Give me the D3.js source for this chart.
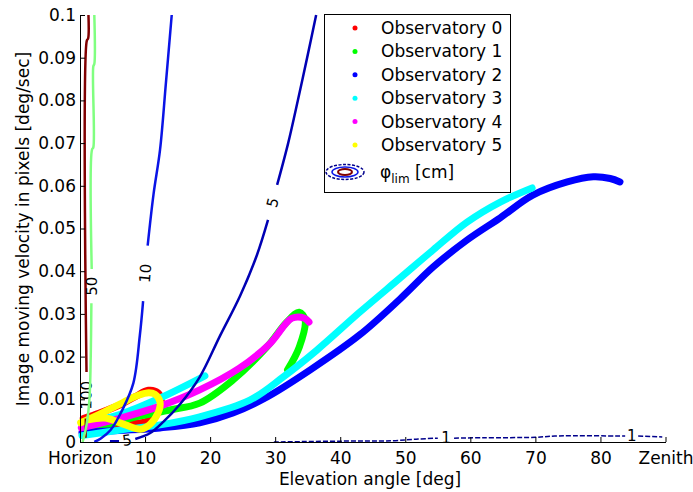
<!DOCTYPE html>
<html>
<head>
<meta charset="utf-8">
<script src="https://cdn.jsdelivr.net/npm/d3@7"></script>
<style>
body { margin: 0; background: #fff; }
text { font-family: "DejaVu Sans", sans-serif; fill: #000; }
</style>
</head>
<body>
<div id="chart"></div>
<script>
const width = 693,
    height = 492;

// axis ticks
const elevTicks = [0, 10, 20, 30, 40, 50, 60, 70, 80, 90];
const elevTickLabels = ["Horizon", "10", "20", "30", "40", "50", "60", "70", "80", "Zenith"];
const velTicks = [0, 0.01, 0.02, 0.03, 0.04, 0.05, 0.06, 0.07, 0.08, 0.09, 0.1];
const velTickLabels = ["0", "0.01", "0.02", "0.03", "0.04", "0.05", "0.06", "0.07", "0.08", "0.09", "0.1"];

// observatory tracks: [elevation deg, velocity deg/sec]
const obs0Tracks = [
    [[0.5, 0.0055], [3, 0.0068], [6, 0.0086], [8.5, 0.0106], [10.5, 0.0121], [12, 0.0115], [12.5, 0.0096],
     [12, 0.0072], [10.5, 0.005], [8, 0.0042], [5, 0.0038], [2, 0.0036], [0.4, 0.0035]]
];
const obs1Tracks = [
    [[0.4, 0.0021], [4.7, 0.0042], [9.3, 0.0061], [13.8, 0.0075], [18.4, 0.0091], [23.5, 0.0145],
     [28.7, 0.0222], [31.8, 0.0281], [33.7, 0.0304], [34.6, 0.0286], [33.7, 0.0222], [31.9, 0.0169]]
];
const obs2Tracks = [
    [[0.3, 0.0022], [6, 0.0027], [12.3, 0.0033], [18.4, 0.0045], [23.5, 0.0068], [28.7, 0.0105],
     [35.4, 0.0169], [43, 0.0251], [49.2, 0.0335], [54.3, 0.041], [59.5, 0.0473], [64.6, 0.0525],
     [69.6, 0.0578], [74.9, 0.0609], [78.9, 0.0621], [81.5, 0.0617], [83, 0.0609]]
];
const obs3Tracks = [
    [[0.3, 0.0015], [6.2, 0.0028], [12.3, 0.004], [18.4, 0.0059], [26.1, 0.0098], [31.2, 0.0152],
     [36.4, 0.0215], [43, 0.0304], [49.2, 0.0384], [54.3, 0.045], [59.5, 0.0515], [64.6, 0.0562],
     [69.5, 0.0595]],
    [[0.8, 0.0045], [6.2, 0.0065], [12.3, 0.0103], [19.2, 0.0155]]
];
const obs4Tracks = [
    [[0.2, 0.0033], [6.2, 0.0056], [12.3, 0.0084], [18.4, 0.0122], [24.5, 0.0173], [29.1, 0.0229],
     [32.6, 0.029], [34.5, 0.029], [35.2, 0.0281]]
];
const obs5Tracks = [
    [[0.1, 0.0045], [3.1, 0.0066], [6.2, 0.0089], [8.2, 0.0105], [10.3, 0.0115], [11.5, 0.0112],
     [12.3, 0.0094], [12, 0.0068], [10.8, 0.0042], [9.3, 0.003], [7, 0.004], [3.9, 0.0056], [1.3, 0.0052]]
];
const obsNames = ["Observatory 0", "Observatory 1", "Observatory 2", "Observatory 3", "Observatory 4", "Observatory 5"];
const obsColors = ["#ff0000", "#00ff00", "#0000ff", "#00ffff", "#ff00ff", "#ffff00"];
const obsTracks = [obs0Tracks, obs1Tracks, obs2Tracks, obs3Tracks, obs4Tracks, obs5Tracks];

// phi_lim contours [cm]; null = gap where the label sits
const contour100 = [[1.3, 0.1], [1.25, 0.0945], [1.05, 0.094], [1.0, 0.0164], null, [0.9, 0.0055], [0.85, 0.001]];
const contour50 = [[2.2, 0.1], [2.2, 0.0885], [2.05, 0.088], [2.05, 0.069], [1.85, 0.0685], [1.8, 0.0405], null,
    [1.75, 0.0325], [1.65, 0.02], [1.45, 0.01], [1.0, 0.004], [0.4, 0]];
const contour10 = [[2.2, 0], [3.2, 0.0008], [4.7, 0.0028], [6.5, 0.0075], [8.2, 0.0138], [9.2, 0.025], [9.7, 0.033], null,
    [10.4, 0.046], [11.3, 0.058], [12.3, 0.0684], [13.2, 0.084], [14.1, 0.1]];
const contour5 = [[4.6, 0.0002], [6.0, 0.0002], null, [8.5, 0.0007], [10.8, 0.0021], [12.8, 0.0047], [15.4, 0.0089],
    [18.4, 0.0152], [21.5, 0.0248], [24.6, 0.0342], [27.2, 0.0438], [28.9, 0.052], null, [30.3, 0.0602],
    [32.0, 0.07], [33.5, 0.0801], [34.9, 0.0899], [36.3, 0.1]];
const contour1 = [[29.8, 0], [40, 0.0002], [48, 0.0003], [52, 0.0007], [55, 0.0009], null, [57.5, 0.0009], [62, 0.001],
    [70, 0.0011], [73, 0.0014], [83.8, 0.0014], null, [85.8, 0.0014], [89.5, 0.0012]];
const contourLevels = ["100", "50", "10", "5", "1"];
const contourColors = ["#800000", "#80ff80", "#0a14e6", "#0000b4", "#00008c"];
const contourData = [contour100, contour50, contour10, contour5, contour1];

const svg = d3.select("#chart").append("svg")
    .attr("width", width)
    .attr("height", height);

const xScale = d3.scaleLinear().domain([0, 90]).range([80, 665.5]);
const yScale = d3.scaleLinear().domain([0, 0.1]).range([442, 15]);

const line = d3.line()
    .defined((d) => d !== null)
    .x((d) => xScale(d[0]))
    .y((d) => yScale(d[1]))
    .curve(d3.curveCatmullRom);

// observatory tracks
obsTracks.forEach((tracks, i) => {
    svg.append("g").selectAll("path")
        .data(tracks)
        .enter()
        .append("path")
        .attr("d", line)
        .attr("fill", "none")
        .attr("stroke", obsColors[i])
        .attr("stroke-width", 7)
        .attr("stroke-linecap", "round")
        .attr("stroke-linejoin", "round");
});

// contours
contourData.forEach((pts, i) => {
    svg.append("path")
        .attr("d", line(pts))
        .attr("fill", "none")
        .attr("stroke", contourColors[i])
        .attr("stroke-width", i === 4 ? 1.5 : 2.5)
        .attr("stroke-dasharray", i === 4 ? "5,2" : null);
    // labels in the gaps
    pts.forEach((p, j) => {
        if (p !== null) return;
        const a = pts[j - 1], b = pts[j + 1];
        const x1 = xScale(a[0]), y1 = yScale(a[1]), x2 = xScale(b[0]), y2 = yScale(b[1]);
        let ang = Math.atan2(y2 - y1, x2 - x1) * 180 / Math.PI;
        if (ang > 90) ang -= 180;
        if (ang < -90) ang += 180;
        if (ang > 80) ang -= 180;
        svg.append("text")
            .attr("transform", "translate(" + (x1 + x2) / 2 + "," + (y1 + y2) / 2 + ") rotate(" + ang + ")")
            .attr("text-anchor", "middle")
            .attr("dy", "0.35em")
            .style("font-size", "15px")
            .text(contourLevels[i]);
    });
});

// axes (MATLAB style, ticks inward)
const xAxis = d3.axisBottom(xScale)
    .tickValues(elevTicks)
    .tickFormat((d, i) => elevTickLabels[i])
    .tickSizeInner(-5)
    .tickSizeOuter(0)
    .tickPadding(10);
const gx = svg.append("g")
    .attr("transform", "translate(0," + yScale(0) + ")")
    .call(xAxis);
gx.selectAll("text").style("font-size", "17px").style("font-family", "DejaVu Sans");

const yAxis = d3.axisLeft(yScale)
    .tickValues(velTicks)
    .tickFormat((d, i) => velTickLabels[i])
    .tickSizeInner(-5)
    .tickSizeOuter(0)
    .tickPadding(4);
const gy = svg.append("g")
    .attr("transform", "translate(" + xScale(0) + ",0)")
    .call(yAxis);
gy.selectAll("text").style("font-size", "17px").style("font-family", "DejaVu Sans");
svg.selectAll(".domain").attr("stroke", "#000");

// axis labels
svg.append("text")
    .attr("x", 370)
    .attr("y", 485)
    .attr("text-anchor", "middle")
    .style("font-size", "17px")
    .text("Elevation angle [deg]");
svg.append("text")
    .attr("transform", "translate(29,229) rotate(-90)")
    .attr("text-anchor", "middle")
    .style("font-size", "17px")
    .text("Image moving velocity in pixels [deg/sec]");

// legend
const legend = svg.append("g").attr("id", "legend");
legend.append("rect")
    .attr("x", 324.5)
    .attr("y", 14.5)
    .attr("width", 186)
    .attr("height", 178)
    .attr("fill", "#fff")
    .attr("stroke", "#000")
    .attr("stroke-width", 1);
const rowY = (i) => 28 + i * 23.4;
obsNames.forEach((name, i) => {
    legend.append("circle")
        .attr("cx", 355)
        .attr("cy", rowY(i))
        .attr("r", 2.5)
        .attr("fill", obsColors[i]);
    legend.append("text")
        .attr("x", 381)
        .attr("y", rowY(i))
        .attr("dy", "0.35em")
        .style("font-size", "17px")
        .text(name);
});
const iconY = 172;
legend.append("ellipse").attr("cx", 345).attr("cy", iconY).attr("rx", 19).attr("ry", 7.5)
    .attr("fill", "none").attr("stroke", "#00008c").attr("stroke-width", 1.5).attr("stroke-dasharray", "3,1.5");
legend.append("ellipse").attr("cx", 345).attr("cy", iconY).attr("rx", 13).attr("ry", 5)
    .attr("fill", "none").attr("stroke", "#0a14e6").attr("stroke-width", 1.5);
legend.append("ellipse").attr("cx", 345).attr("cy", iconY).attr("rx", 7).attr("ry", 3)
    .attr("fill", "none").attr("stroke", "#800000").attr("stroke-width", 2);
const phiText = legend.append("text")
    .attr("x", 380)
    .attr("y", iconY)
    .attr("dy", "0.35em")
    .style("font-size", "17px");
phiText.append("tspan").text("\u03c6");
phiText.append("tspan").attr("dy", "5").style("font-size", "12px").text("lim");
phiText.append("tspan").attr("dy", "-5").text(" [cm]");
</script>
</body>
</html>
